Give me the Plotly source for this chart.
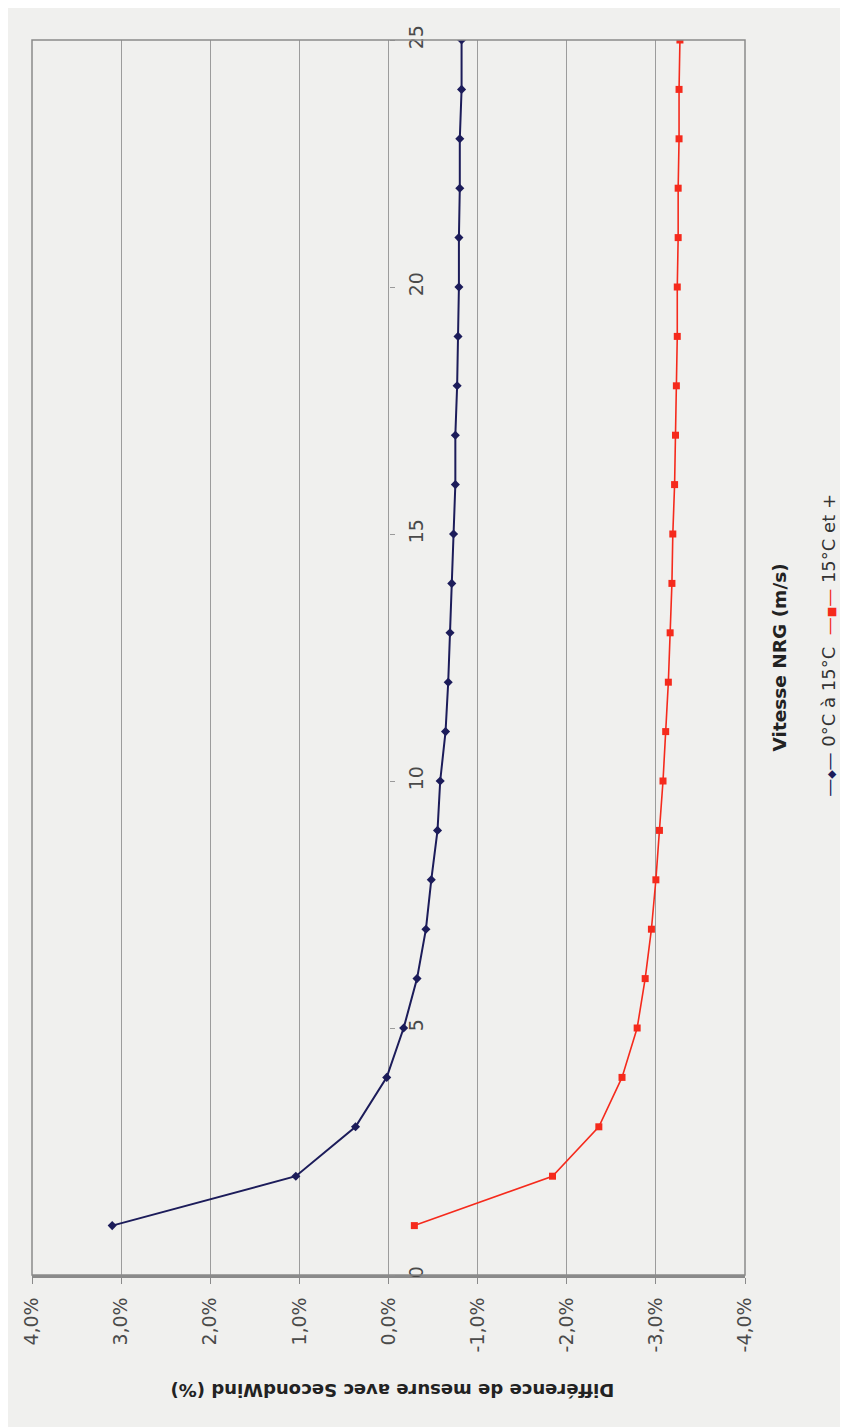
import plotly.graph_objects as go

# Data read from the (rotated) reference chart
vitesse = list(range(1, 26))  # Vitesse NRG (m/s)
serie_0_15 = [3.10, 1.04, 0.37, 0.02, -0.17, -0.32, -0.42, -0.48, -0.55, -0.58,
              -0.64, -0.67, -0.69, -0.71, -0.73, -0.75, -0.75, -0.77, -0.78, -0.79,
              -0.79, -0.80, -0.80, -0.82, -0.82]
serie_15_plus = [-0.29, -1.84, -2.36, -2.62, -2.79, -2.88, -2.95, -3.00, -3.04, -3.08,
                 -3.11, -3.14, -3.16, -3.18, -3.19, -3.21, -3.22, -3.23, -3.24, -3.24,
                 -3.25, -3.25, -3.26, -3.26, -3.27]
series_names = ["0°C à 15°C", "15°C et +"]
pct_ticks = [4, 3, 2, 1, 0, -1, -2, -3, -4]
pct_labels = ["4,0%", "3,0%", "2,0%", "1,0%", "0,0%", "-1,0%", "-2,0%", "-3,0%", "-4,0%"]
speed_ticks = [0, 5, 10, 15, 20, 25]
x_title = "Différence de mesure avec SecondWind (%)"
y_title = "Vitesse NRG (m/s)"

BLUE = "#1c1c5a"
RED = "#f52a1c"
GRID = "#9c9c9c"
BG = "#f0f0ee"
FONT = "DejaVu Sans"

fig = go.Figure()
fig.add_trace(go.Scatter(
    x=serie_0_15, y=vitesse, mode="lines+markers", name=series_names[0],
    line=dict(color=BLUE, width=2),
    marker=dict(symbol="diamond", size=7, color=BLUE),
))
fig.add_trace(go.Scatter(
    x=serie_15_plus, y=vitesse, mode="lines+markers", name=series_names[1],
    line=dict(color=RED, width=1.6),
    marker=dict(symbol="square", size=7, color=RED),
))

sym_blue = ("<span style='color:%s'>—<span style='font-size:11px'>◆</span>—</span>" % BLUE)
sym_red = ("<span style='color:%s'>—<span style='font-size:11px'>■</span>—</span>" % RED)
legend_text = "%s %s  %s %s" % (sym_blue, series_names[0], sym_red, series_names[1])

fig.update_layout(
    width=840, height=1419,
    margin=dict(l=20, r=103, t=32, b=152),
    paper_bgcolor=BG, plot_bgcolor=BG,
    showlegend=False,
    font=dict(family=FONT, color="#444444"),
    xaxis=dict(
        range=[4, -4], tickvals=pct_ticks, ticktext=pct_labels,
        tickangle=-90, tickfont=dict(size=19, color="#4a4a4a"),
        showgrid=True, gridcolor=GRID, gridwidth=1.4,
        zeroline=False,
        showline=True, linecolor="#8a8a8a", linewidth=2.5,
        ticks="outside", ticklen=6, tickcolor="#8a8a8a",
        ticklabelstandoff=6,
    ),
    yaxis=dict(
        range=[0, 25], tickvals=speed_ticks,
        tickangle=-90, tickfont=dict(size=19, color="#4a4a4a"),
        showgrid=False, zeroline=False, showline=False,
        anchor="free", position=0.5, side="right",
        ticks="outside", ticklen=5, tickcolor="#9a9a9a",
        ticklabelstandoff=6,
    ),
    shapes=[dict(type="rect", xref="paper", yref="paper", x0=0, x1=1, y0=0, y1=1,
                 line=dict(color="#8a8a8a", width=1.5), layer="above")],
    annotations=[
        dict(text="<b>" + x_title + "</b>", xref="paper", yref="paper",
             x=0.505, y=-0.093, textangle=180, showarrow=False,
             font=dict(size=18, color="#222222", family=FONT),
             xanchor="center", yanchor="middle"),
        dict(text="<b>" + y_title + "</b>", xref="paper", yref="paper",
             x=1.049, y=0.5, textangle=-90, showarrow=False,
             font=dict(size=18.5, color="#222222", family=FONT),
             xanchor="center", yanchor="middle"),
        dict(text=legend_text,
             xref="paper", yref="paper",
             x=1.116, y=0.51, textangle=-90, showarrow=False,
             font=dict(size=18, color="#333333", family=FONT),
             xanchor="center", yanchor="middle"),
    ],
)

fig.write_html("out.html")
